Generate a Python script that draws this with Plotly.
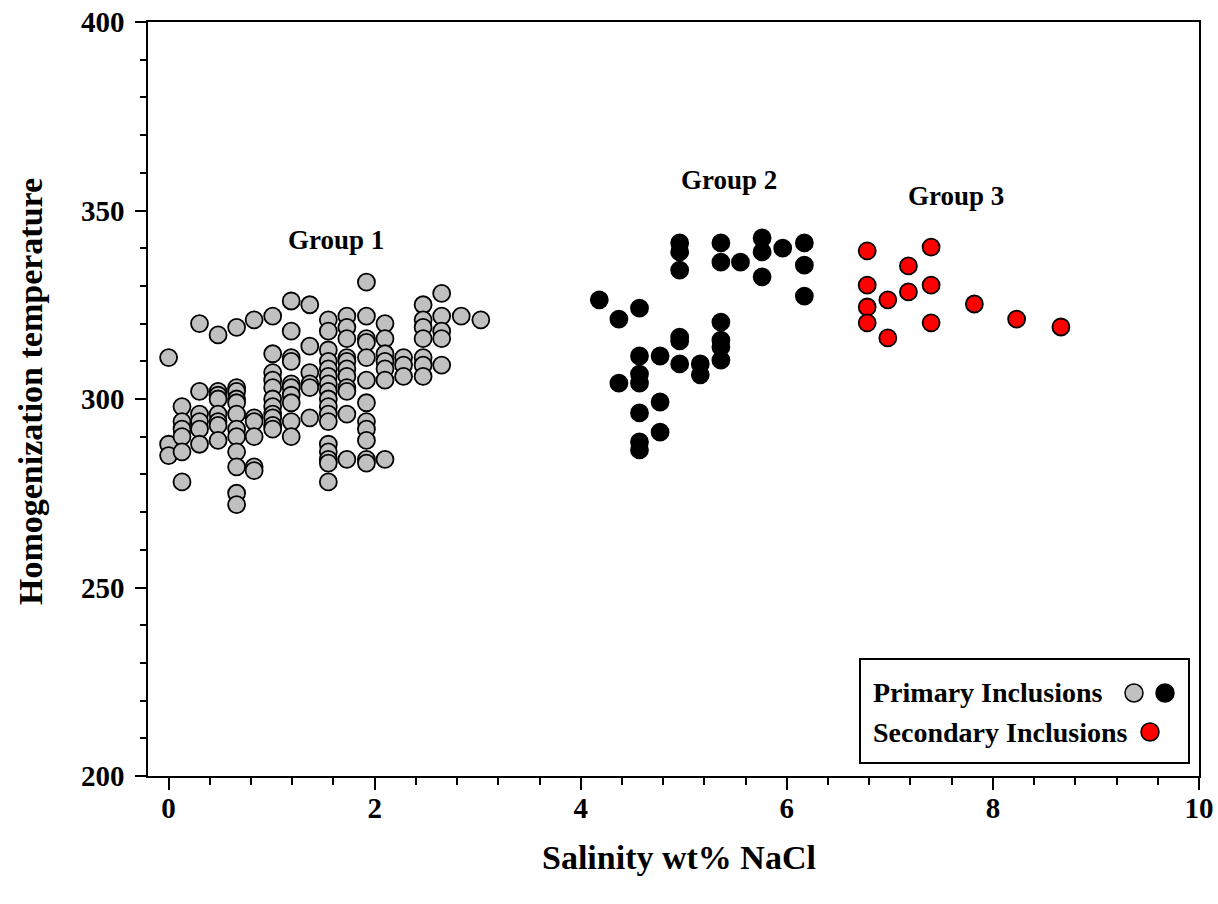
import plotly.graph_objects as go

# ---------------- data ----------------
# Group 1 (primary inclusions, grey): salinity columns and temperatures
g1_cols = {
    0.00: [311, 288, 285],
    0.13: [298, 294, 292, 290, 286, 278],
    0.30: [320, 302, 296, 294, 292, 288],
    0.48: [317, 302, 301, 300, 296, 294, 293, 289],
    0.66: [319, 303, 302, 300, 299, 296, 292, 290, 286, 282, 275, 272],
    0.83: [321, 295, 294, 290, 282, 281],
    1.01: [322, 312, 307, 305, 303, 300, 298, 296, 295, 293, 292],
    1.19: [326, 318, 311, 310, 304, 303, 301, 299, 294, 290],
    1.37: [325, 314, 307, 304, 303, 295],
    1.55: [321, 318, 313, 310, 308, 306, 304, 302, 300, 298, 296, 294, 288, 286, 284, 283, 278],
    1.73: [322, 319, 316, 311, 310, 308, 306, 303, 302, 296, 284],
    1.92: [331, 322, 316, 315, 311, 305, 299, 294, 292, 289, 284, 283],
    2.10: [320, 316, 312, 310, 308, 305, 284],
    2.28: [311, 309, 306],
    2.47: [325, 321, 319, 316, 311, 309, 306],
    2.65: [328, 322, 318, 316, 309],
    2.84: [322],
    3.03: [321],
}
g1_x = [x for x, ys in g1_cols.items() for _ in ys]
g1_y = [y for ys in g1_cols.values() for y in ys]

# Group 2 (primary inclusions, black)
g2_x = [4.18, 4.37, 4.57, 4.96, 4.96, 4.96, 5.36, 5.36, 5.55, 5.76, 5.76, 5.76,
        5.96, 6.17, 6.17, 6.17, 4.57, 4.77, 4.37, 4.57, 4.57, 4.96, 4.96, 4.96,
        5.16, 5.16, 5.36, 5.36, 5.36, 5.36, 4.77, 4.57, 4.77, 4.57, 4.57]
g2_y = [326.3, 321.2, 324.1, 341.4, 339.0, 334.2, 341.4, 336.3, 336.3, 342.7, 339.0, 332.4,
        340.0, 341.4, 335.5, 327.3, 311.4, 311.4, 304.2, 306.6, 304.2, 316.4, 315.4, 309.3,
        309.3, 306.4, 320.4, 315.6, 313.8, 310.3, 299.2, 296.3, 291.2, 288.6, 286.5]

# Group 3 (secondary inclusions, red)
g3_x = [6.78, 6.78, 6.78, 6.78, 6.98, 6.98, 7.18, 7.18, 7.40, 7.40, 7.40, 7.82, 8.23, 8.66]
g3_y = [339.3, 330.2, 324.4, 320.2, 326.3, 316.2, 335.3, 328.4, 340.3, 330.2, 320.2, 325.2, 321.2, 319.1]

group_labels = ["Group 1", "Group 2", "Group 3"]
group_label_pos = [(1.62, 342.2), (5.44, 358.1), (7.64, 353.8)]

x_title = "Salinity wt% NaCl"
y_title = "Homogenization temperature"
legend_texts = ["Primary Inclusions", "Secondary Inclusions"]

# ---------------- figure ----------------
FONT = "Liberation Serif, Times New Roman, serif"
W, H = 1218, 904
L, R, T, B = 148, 19, 22, 128
PW, PH = W - L - R, H - T - B


def px2paper(px, py):
    return (px - L) / PW, (H - B - py) / PH


fig = go.Figure()
mk = dict(size=17, line=dict(color="black", width=1.8))
fig.add_trace(go.Scatter(x=g1_x, y=g1_y, mode="markers",
                         marker=dict(color="#c0c0c0", **mk), showlegend=False))
fig.add_trace(go.Scatter(x=g2_x, y=g2_y, mode="markers",
                         marker=dict(color="black", **mk), showlegend=False))
fig.add_trace(go.Scatter(x=g3_x, y=g3_y, mode="markers",
                         marker=dict(color="#ff0000", **mk), showlegend=False))

annotations = []
for txt, (gx, gy) in zip(group_labels, group_label_pos):
    annotations.append(dict(x=gx, y=gy, xref="x", yref="y", text=txt, showarrow=False,
                            font=dict(family=FONT, size=27, color="black", weight="bold")))

ax, ay = px2paper(679, 857)
annotations.append(dict(x=ax, y=ay, xref="paper", yref="paper", text=x_title, showarrow=False,
                        xanchor="center", yanchor="middle",
                        font=dict(family=FONT, size=34, color="black", weight="bold")))
ax, ay = px2paper(30, 392)
annotations.append(dict(x=ax, y=ay, xref="paper", yref="paper", text=y_title, showarrow=False,
                        textangle=-90, xanchor="center", yanchor="middle",
                        font=dict(family=FONT, size=34, color="black", weight="bold")))

# legend box
shapes = []
x0, y0 = px2paper(860, 763)
x1, y1 = px2paper(1189, 659)
shapes.append(dict(type="rect", xref="paper", yref="paper", x0=x0, y0=y0, x1=x1, y1=y1,
                   line=dict(color="black", width=2), fillcolor="white", layer="above"))
for txt, py in zip(legend_texts, [692, 732]):
    lx, ly = px2paper(871, py)
    annotations.append(dict(x=lx, y=ly, xref="paper", yref="paper", text=txt, showarrow=False,
                            xanchor="left", yanchor="middle",
                            font=dict(family=FONT, size=28, color="black", weight="bold")))
for (cx, cy, col) in [(1134, 693, "#c0c0c0"), (1165, 693, "black"), (1150, 732, "#ff0000")]:
    xa, ya = px2paper(cx, cy)
    shapes.append(dict(type="circle", xref="paper", yref="paper", xsizemode="pixel",
                       ysizemode="pixel", xanchor=xa, yanchor=ya, x0=-9, x1=9, y0=-9, y1=9,
                       fillcolor=col, line=dict(color="black", width=1.5), layer="above"))

axis_common = dict(showline=True, linecolor="black", linewidth=1.5, mirror=True,
                   ticks="outside", tickcolor="black", tickwidth=1.5,
                   showgrid=False, zeroline=False, automargin=False,
                   tickfont=dict(family=FONT, size=29, color="black", weight="bold"))

fig.update_layout(
    width=W, height=H,
    margin=dict(l=L, r=R, t=T, b=B),
    plot_bgcolor="white", paper_bgcolor="white",
    xaxis=dict(range=[-0.2, 10], tick0=0, dtick=2, ticklen=12,
               minor=dict(ticks="outside", dtick=0.4, tick0=0, ticklen=7,
                          tickcolor="black", tickwidth=1.5),
               ticklabelstandoff=-7, **axis_common),
    yaxis=dict(range=[200, 400], tick0=200, dtick=50, ticklen=11,
               minor=dict(ticks="outside", dtick=10, tick0=200, ticklen=6,
                          tickcolor="black", tickwidth=1.5),
               ticklabelstandoff=5, **axis_common),
    annotations=annotations,
    shapes=shapes,
    showlegend=False,
)

fig.write_html("out.html")
